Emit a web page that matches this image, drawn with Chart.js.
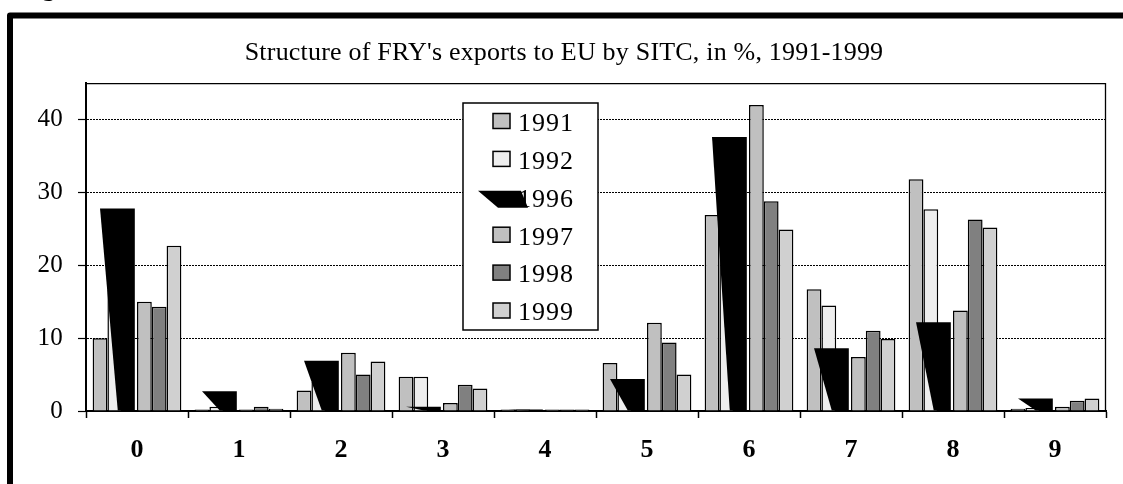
<!DOCTYPE html>
<html>
<head>
<meta charset="utf-8">
<script src="https://cdn.jsdelivr.net/npm/chart.js@4/dist/chart.umd.min.js"></script>
<style>
  html, body { margin: 0; padding: 0; background: #fff; }
  #wrap { position: relative; width: 1123px; height: 484px; }
</style>
</head>
<body>
<div id="wrap"><canvas id="bar-chart" width="1123" height="484"></canvas></div>
<script>
  var categorias = ['0', '1', '2', '3', '4', '5', '6', '7', '8', '9'];
  var y1991 = [10, 0.2, 2.8, 4.7, 0.2, 6.6, 26.9, 16.7, 31.8, 0.3];
  var y1992 = [16.6, 0.6, 4, 4.7, 0.2, 4, 30, 14.5, 27.7, 0.4];
  var y1996 = [27.8, 2.7, 6.9, 0.6, 0.2, 4.4, 37.6, 8.6, 12.2, 1.7];
  var y1997 = [15.0, 0.2, 8.0, 1.1, 0.2, 12.1, 42.0, 7.4, 13.8, 0.6];
  var y1998 = [14.3, 0.6, 5.0, 3.6, 0.2, 9.4, 28.8, 11.0, 26.3, 1.4];
  var y1999 = [22.7, 0.3, 6.8, 3.1, 0.2, 5.0, 24.9, 9.9, 25.2, 1.7];
  var yTicks = [0, 10, 20, 30, 40];
  var titulo = "Structure of FRY's exports to EU by SITC, in %, 1991-1999";

  var FUENTE = "'Liberation Serif', 'Times New Roman', serif";
  var NEGRO_IDX = 2; // 1996 se dibuja como paralelogramo

  // marco grueso, borde del area y texto de arriba
  var marco = {
    id: 'marco',
    beforeDraw: function(chart) {
      var ctx = chart.ctx;
      ctx.save();
      ctx.fillStyle = '#fff';
      ctx.fillRect(0, 0, chart.width, chart.height);
      ctx.fillStyle = '#000';
      ctx.font = 'bold 26px ' + FUENTE;
      ctx.textBaseline = 'alphabetic';
      ctx.fillText('Figure', 19, -4);
      ctx.lineWidth = 6;
      ctx.lineJoin = 'round';
      ctx.strokeStyle = '#000';
      ctx.strokeRect(10, 15.5, 1140, 520);
      ctx.restore();
      ctx.letterSpacing = '0.2px';
    },
    afterDraw: function(chart) {
      var a = chart.chartArea;
      var ctx = chart.ctx;
      ctx.save();
      ctx.strokeStyle = '#000';
      ctx.lineWidth = 1.3;
      ctx.beginPath();
      ctx.moveTo(a.left, a.top + 0.5);
      ctx.lineTo(a.right - 0.5, a.top + 0.5);
      ctx.lineTo(a.right - 0.5, a.bottom);
      ctx.stroke();
      ctx.restore();
    }
  };

  // barras negras inclinadas de 1996
  var paralelogramo = {
    id: 'paralelogramo',
    afterDatasetsDraw: function(chart) {
      var ctx = chart.ctx;
      var meta = chart.getDatasetMeta(NEGRO_IDX);
      ctx.save();
      ctx.fillStyle = '#000';
      meta.data.forEach(function(el) {
        var p = el.getProps(['x', 'y', 'base', 'width'], true);
        var w = p.width;
        ctx.beginPath();
        ctx.moveTo(p.x - 2.0 * w, p.y);
        ctx.lineTo(p.x + 0.35 * w, p.y);
        ctx.lineTo(p.x + 0.35 * w, p.base);
        ctx.lineTo(p.x - 0.8 * w, p.base);
        ctx.closePath();
        ctx.fill();
      });
      ctx.restore();
    }
  };

  // leyenda dentro del area
  var leyenda = {
    id: 'leyenda',
    afterDraw: function(chart) {
      var ctx = chart.ctx;
      var bx = 463, by = 103, bw = 135, bh = 227;
      ctx.save();
      ctx.fillStyle = '#fff';
      ctx.fillRect(bx, by, bw, bh);
      ctx.strokeStyle = '#000';
      ctx.lineWidth = 1.5;
      ctx.strokeRect(bx, by, bw, bh);
      ctx.font = '26px ' + FUENTE;
      ctx.letterSpacing = '1px';
      ctx.textBaseline = 'middle';
      chart.data.datasets.forEach(function(ds, i) {
        var cy = 121 + i * 37.9;
        ctx.fillStyle = '#000';
        ctx.fillText(ds.label, 518, cy + 3);
        if (i === NEGRO_IDX) {
          ctx.beginPath();
          ctx.moveTo(478, cy - 6);
          ctx.lineTo(521, cy - 6);
          ctx.lineTo(528, cy + 11);
          ctx.lineTo(498, cy + 11);
          ctx.closePath();
          ctx.fill();
        } else {
          ctx.fillStyle = ds.backgroundColor;
          ctx.fillRect(493, cy - 7.5, 17, 15);
          ctx.lineWidth = 1.5;
          ctx.strokeRect(493, cy - 7.5, 17, 15);
        }
      });
      ctx.restore();
    }
  };

  function serie(label, data, color) {
    return {
      label: label,
      data: data,
      backgroundColor: color,
      borderColor: '#000',
      borderWidth: 1.5,
      barPercentage: 1.0,
      categoryPercentage: 0.87
    };
  }

  var datasets = [
    serie('1991', y1991, '#c0c0c0'),
    serie('1992', y1992, '#eeeeee'),
    serie('1996', y1996, '#000000'),
    serie('1997', y1997, '#c0c0c0'),
    serie('1998', y1998, '#808080'),
    serie('1999', y1999, '#d0d0d0')
  ];
  datasets[NEGRO_IDX].backgroundColor = 'rgba(0,0,0,0)';
  datasets[NEGRO_IDX].borderWidth = 0;

  new Chart(document.getElementById('bar-chart'), {
    type: 'bar',
    data: {
      labels: categorias,
      datasets: datasets
    },
    plugins: [marco, paralelogramo, leyenda],
    options: {
      responsive: false,
      animation: false,
      devicePixelRatio: 1,
      layout: {
        padding: { left: 22, right: 17, top: 0, bottom: 0 }
      },
      plugins: {
        legend: { display: false },
        tooltip: { enabled: false },
        title: {
          display: true,
          text: titulo,
          color: '#000',
          font: { family: FUENTE, size: 26, weight: 'normal' },
          padding: { top: 38, bottom: 14 }
        }
      },
      scales: {
        x: {
          afterFit: function(scale) { scale.height = 73; },
          grid: {
            display: true,
            offset: true,
            drawOnChartArea: false,
            drawTicks: true,
            tickLength: 7,
            tickColor: '#000',
            tickWidth: 1.5
          },
          border: { display: true, color: '#000', width: 2 },
          ticks: {
            color: '#000',
            padding: 17,
            font: { family: FUENTE, size: 26, weight: 'bold' }
          }
        },
        y: {
          min: 0,
          max: 45,
          afterFit: function(scale) { scale.width = 64; },
          afterBuildTicks: function(scale) {
            scale.ticks = yTicks.map(function(v) { return { value: v }; });
          },
          grid: {
            color: '#000',
            lineWidth: 1,
            drawTicks: true,
            tickLength: 8,
            tickColor: '#000',
            tickWidth: 1.2,
            tickBorderDash: []
          },
          border: { display: true, color: '#000', width: 2, dash: [2, 1] },
          ticks: {
            color: '#000',
            padding: 15,
            font: { family: FUENTE, size: 25 }
          }
        }
      }
    }
  });
</script>
</body>
</html>
